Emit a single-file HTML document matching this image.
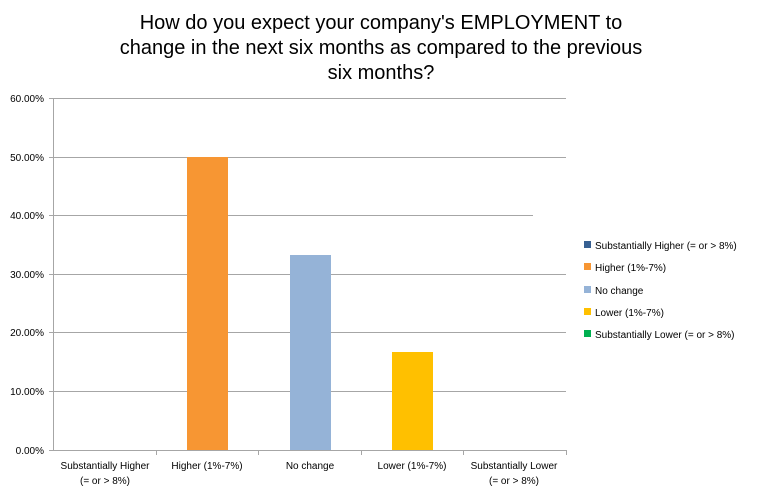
<!DOCTYPE html>
<html><head><meta charset="utf-8"><style>
body{margin:0;background:#fff;}
svg text{font-family:"Liberation Sans",sans-serif;}
</style></head><body>
<svg width="760" height="495" xmlns="http://www.w3.org/2000/svg">
<rect width="760" height="495" fill="#fff"/>
<g font-size="20" fill="#000" text-anchor="middle">
<text x="381" y="29">How do you expect your company's EMPLOYMENT to</text>
<text x="381" y="54">change in the next six months as compared to the previous</text>
<text x="381" y="79">six months?</text>
</g>
<g stroke="#a6a6a6" stroke-width="1">
<line x1="53" y1="98.5" x2="566" y2="98.5"/>
<line x1="53" y1="157.5" x2="566" y2="157.5"/>
<line x1="53" y1="215.5" x2="533" y2="215.5"/>
<line x1="53" y1="274.5" x2="566" y2="274.5"/>
<line x1="53" y1="332.5" x2="566" y2="332.5"/>
<line x1="53" y1="391.5" x2="566" y2="391.5"/>
<line x1="53" y1="450.5" x2="566" y2="450.5"/>
<line x1="53.5" y1="98" x2="53.5" y2="450"/>
<line x1="49" y1="98.5" x2="53" y2="98.5"/><line x1="49" y1="157.5" x2="53" y2="157.5"/><line x1="49" y1="215.5" x2="53" y2="215.5"/><line x1="49" y1="274.5" x2="53" y2="274.5"/><line x1="49" y1="332.5" x2="53" y2="332.5"/><line x1="49" y1="391.5" x2="53" y2="391.5"/><line x1="49" y1="450.5" x2="53" y2="450.5"/>
<line x1="156.5" y1="450" x2="156.5" y2="455"/><line x1="258.5" y1="450" x2="258.5" y2="455"/><line x1="361.5" y1="450" x2="361.5" y2="455"/><line x1="463.5" y1="450" x2="463.5" y2="455"/><line x1="566.5" y1="450" x2="566.5" y2="455"/>
</g>
<rect x="187" y="157" width="41" height="293" fill="#f79633"/>
<rect x="290" y="255" width="41" height="195" fill="#95b3d7"/>
<rect x="392" y="352" width="41" height="98" fill="#ffc000"/>
<g font-size="10" fill="#000" text-anchor="end">
<text x="44" y="102">60.00%</text><text x="44" y="161">50.00%</text><text x="44" y="219">40.00%</text><text x="44" y="278">30.00%</text><text x="44" y="336">20.00%</text><text x="44" y="395">10.00%</text><text x="44" y="454">0.00%</text>
</g>
<g font-size="10" fill="#000" text-anchor="middle">
<text x="105" y="469">Substantially Higher</text><text x="105" y="484">(= or &gt; 8%)</text>
<text x="207" y="469">Higher (1%-7%)</text>
<text x="310" y="469">No change</text>
<text x="412" y="469">Lower (1%-7%)</text>
<text x="514" y="469">Substantially Lower</text><text x="514" y="484">(= or &gt; 8%)</text>
</g>
<g font-size="10" fill="#000">
<rect x="584" y="241" width="7" height="7" fill="#376092"/><text x="595" y="249">Substantially Higher (= or &gt; 8%)</text>
<rect x="584" y="263" width="7" height="7" fill="#f79633"/><text x="595" y="271">Higher (1%-7%)</text>
<rect x="584" y="286" width="7" height="7" fill="#95b3d7"/><text x="595" y="294">No change</text>
<rect x="584" y="308" width="7" height="7" fill="#ffc000"/><text x="595" y="316">Lower (1%-7%)</text>
<rect x="584" y="330" width="7" height="7" fill="#00b050"/><text x="595" y="338">Substantially Lower (= or &gt; 8%)</text>
</g>
</svg>
</body></html>
